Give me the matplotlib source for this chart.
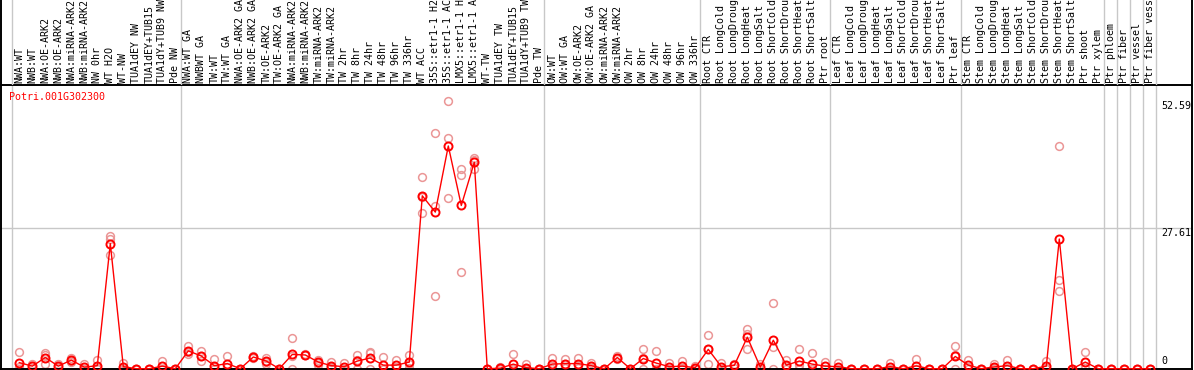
import matplotlib
matplotlib.use("Agg")
import matplotlib.pyplot as plt
import numpy as np

title = "Potri.001G302300"

labels = [
    "NWA:WT", "NWB:WT", "NWA:OE-ARK2", "NWB:OE-ARK2", "NWA:miRNA-ARK2", "NWB:miRNA-ARK2",
    "NW 0hr", "WT H2O", "WT-NW", "TUA1dEY NW", "TUA1dEY+TUB15", "TUA1dY+TUB9 NW", "Pde NW",
    "NWA:WT GA", "NWBWT GA", "TW:WT", "TW:WT GA", "NWA:OE-ARK2 GA", "NWB:OE-ARK2 GA",
    "TW:OE-ARK2", "TW:OE-ARK2 GA", "NWA:miRNA-ARK2", "NWB:miRNA-ARK2", "TW:miRNA-ARK2",
    "TW:miRNA-ARK2", "TW 2hr", "TW 8hr", "TW 24hr", "TW 48hr", "TW 96hr", "TW 336hr",
    "WT ACC", "35S::etr1-1 H2", "35S::etr1-1 AC", "LMX5::etr1-1 H", "LMX5::etr1-1 A",
    "WT-TW", "TUA1dEY TW", "TUA1dEY+TUB15", "TUA1dY+TUB9 TW", "Pde TW",
    "OW:WT", "OW:WT GA", "OW:OE-ARK2", "OW:OE-ARK2 GA", "OW:miRNA-ARK2", "OW:miRNA-ARK2",
    "OW 2hr", "OW 8hr", "OW 24hr", "OW 48hr", "OW 96hr", "OW 336hr",
    "Root CTR", "Root LongCold", "Root LongDroug", "Root LongHeat", "Root LongSalt",
    "Root ShortCold", "Root ShortDrou", "Root ShortHeat", "Root ShortSalt", "Ptr root",
    "Leaf CTR", "Leaf LongCold", "Leaf LongDroug", "Leaf LongHeat", "Leaf LongSalt",
    "Leaf ShortCold", "Leaf ShortDrou", "Leaf ShortHeat", "Leaf ShortSalt", "Ptr leaf",
    "Stem CTR", "Stem LongCold", "Stem LongDroug", "Stem LongHeat", "Stem LongSalt",
    "Stem ShortCold", "Stem ShortDrou", "Stem ShortHeat", "Stem ShortSalt", "Ptr shoot",
    "Ptr xylem", "Ptr phloem", "Ptr fiber", "Ptr vessel", "Ptr fiber vess",
]

# last index of each group (group separators drawn after these)
group_ends = [-1, 12, 40, 52, 62, 72, 83, 84, 85, 86, 87]

means = [
    1.2, 0.5, 2.2, 0.5, 1.7, 0.3, 0.6, 24.6, 0.4, 0.0, 0.0, 0.5, 0.0,
    3.5, 2.5, 0.6, 1.0, 0.0, 2.3, 1.5, 0.0, 2.8, 2.7, 1.3, 0.6, 0.4, 1.5, 2.1, 0.7, 0.7,
    1.3, 34.0, 30.8, 43.8, 32.1, 40.6, 0.0, 0.1, 0.9, 0.2, 0.0,
    0.9, 1.0, 1.0, 0.6, 0.0, 2.2, 0.0, 2.0, 1.1, 0.4, 0.5, 0.2,
    3.8, 0.4, 0.65, 6.2, 0.3, 5.6, 0.7, 1.5, 0.9, 0.5,
    0.4, 0.0, 0.0, 0.0, 0.4, 0.0, 0.55, 0.0, 0.0, 2.4,
    0.7, 0.0, 0.35, 0.6, 0.0, 0.0, 0.5, 25.5, 0.0, 1.3, 0.0,
    0.0, 0.0, 0.0, 0.0,
]

rep1 = [
    3.3, 1.0, 3.0, 1.0, 2.2, 1.0, 1.7, 26.0, 1.2, 0.0, 0.0, 1.6, 0.0,
    4.5, 3.5, 2.0, 2.5, 0.0, 2.4, 2.2, 0.0, 6.0, 2.8, 1.8, 1.4, 1.2, 2.6, 3.3, 2.3, 1.7,
    2.7, 37.6, 46.3, 52.6, 39.3, 41.5, 0.0, 0.3, 2.8, 0.9, 0.0,
    2.2, 1.9, 2.1, 1.2, 0.0, 2.5, 0.0, 3.8, 3.5, 1.2, 1.5, 0.6,
    6.6, 1.2, 1.0, 7.9, 0.9, 12.9, 1.7, 3.8, 3.0, 1.4,
    1.2, 0.0, 0.0, 0.0, 1.2, 0.0, 1.9, 0.0, 0.0, 4.4,
    1.7, 0.0, 0.9, 1.7, 0.0, 0.0, 1.5, 43.8, 0.0, 3.2, 0.0,
    0.0, 0.0, 0.0, 0.0,
]

rep2 = [
    0.3, 0.5, 2.6, 0.4, 1.5, 0.0, 0.2, 25.6, 0.0, 0.0, 0.0, 0.0, 0.0,
    3.3, 2.5, 0.0, 0.4, 0.0, 2.3, 1.4, 0.0, 2.4, 2.7, 1.2, 0.4, 0.0, 1.8, 3.0, 0.0, 0.3,
    1.0, 33.8, 31.9, 45.3, 38.0, 41.0, 0.0, 0.0, 0.0, 0.0, 0.0,
    0.6, 1.0, 0.8, 0.5, 0.0, 2.2, 0.0, 2.2, 0.0, 0.0, 0.1, 0.0,
    3.9, 0.0, 0.8, 6.9, 0.2, 4.3, 0.5, 0.7, 0.0, 0.0,
    0.0, 0.0, 0.0, 0.0, 0.0, 0.0, 0.0, 0.0, 0.0, 2.7,
    0.3, 0.0, 0.1, 0.1, 0.0, 0.0, 0.1, 17.4, 0.0, 0.5, 0.0,
    0.0, 0.0, 0.0, 0.0,
]

rep3 = [
    0.0, 0.1, 0.9, 0.2, 1.4, 0.0, 0.0, 22.4, 0.0, 0.0, 0.0, 0.0, 0.0,
    2.8, 1.5, 0.0, 0.3, 0.0, 2.2, 1.0, 0.0, 0.0, 2.6, 0.8, 0.2, 0.0, 0.0, 0.0, 0.0, 0.1,
    0.2, 30.6, 14.3, 33.5, 19.0, 39.2, 0.0, 0.0, 0.0, 0.0, 0.0,
    0.0, 0.1, 0.1, 0.1, 0.0, 2.0, 0.0, 0.0, 0.0, 0.0, 0.0, 0.0,
    0.9, 0.0, 0.2, 3.8, 0.0, 0.0, 0.0, 0.0, 0.0, 0.0,
    0.0, 0.0, 0.0, 0.0, 0.0, 0.0, 0.0, 0.0, 0.0, 0.0,
    0.0, 0.0, 0.0, 0.0, 0.0, 0.0, 0.0, 15.3, 0.0, 0.2, 0.0,
    0.0, 0.0, 0.0, 0.0,
]

tick_vals = [52.59, 27.61, 0]
tick_texts = ["52.59", "27.61", "0"]

# ---------------- layout ----------------
W, H = 1194, 370
fig = plt.figure(figsize=(W / 100, H / 100), dpi=100)
fig.patch.set_facecolor("white")


def fx(px):
    return px / W


def fy(py):
    return 1 - py / H


FONT = "DejaVu Sans Mono"
FS = 7.2
RED = "#FF0000"
PINK = "#EB9696"
GRID = "#C8C8C8"

x_left, x_right = 1, 1192
y_top, y_bot = 85, 369
ax = fig.add_axes([fx(x_left), fy(y_bot), fx(x_right) - fx(x_left), fy(y_top) - fy(y_bot)])
axh = fig.add_axes([fx(x_left), fy(y_top), fx(x_right) - fx(x_left), fy(0) - fy(y_top)])

step = 13.0
x0 = 19.3
xa = (x_left - x0) / step
xb = xa + (x_right - x_left) / step
for a in (ax, axh):
    a.set_xlim(xa, xb)
    a.set_xticks([])
    a.set_yticks([])
    a.set_facecolor("none")

zero_px = 368.7
scale = (zero_px - 228.3) / 27.61
ax.set_ylim((zero_px - y_bot) / scale, (zero_px - y_top) / scale)
axh.set_ylim(0, y_top)

for s in ax.spines.values():
    s.set_color("black")
    s.set_linewidth(1.4)
for k, s in axh.spines.items():
    if k in ("top", "bottom"):
        s.set_visible(False)
    else:
        s.set_color("black")
        s.set_linewidth(1.4)

x = np.arange(len(labels))

for g in group_ends:
    b = g + 0.4
    ax.axvline(b, color=GRID, lw=1.0, zorder=1)
    axh.axvline(b, color=GRID, lw=1.0, zorder=1)

ax.axhline(27.61, color=GRID, lw=1.0, zorder=1)

for r in (rep1, rep2, rep3):
    ax.plot(x, r, linestyle="none", marker="o", markersize=5.6, mfc="none",
            mec=PINK, mew=1.1, zorder=2, clip_on=False)

ax.plot(x, means, color=RED, lw=1.0, marker="o", markersize=5.8, mfc="none",
        mec=RED, mew=1.4, zorder=3, clip_on=False)

for i, lab in enumerate(labels):
    axh.text(i, 2, lab, rotation=90, ha="center", va="bottom", fontsize=FS,
             family=FONT, color="black", clip_on=False)

xt = (1161.5 - x0) / step
for v, t in zip(tick_vals, tick_texts):
    if v == 0:
        ax.text(xt, 0.5, t, ha="left", va="bottom", fontsize=FS, family=FONT, color="black")
    else:
        ax.text(xt, v, t, ha="left", va="top", fontsize=FS, family=FONT, color="black")

fig.text(fx(9), fy(97), title, ha="left", va="center", fontsize=FS, family=FONT, color=RED)

fig.savefig("out.png", dpi=100)
